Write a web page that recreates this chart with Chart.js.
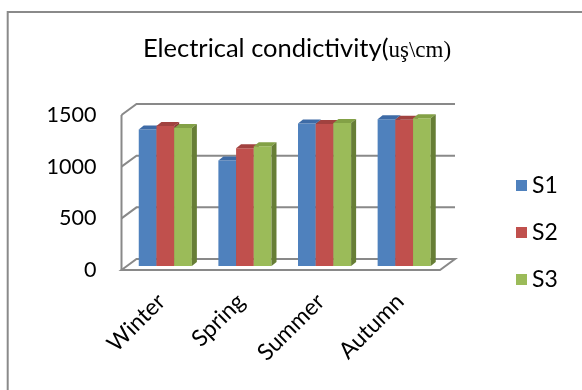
<!DOCTYPE html>
<html>
<head>
<meta charset="utf-8">
<script src="https://cdn.jsdelivr.net/npm/chart.js@4/dist/chart.umd.min.js"></script>
<style>
  html, body { margin: 0; padding: 0; background: #fff; }
  canvas { display: block; }
</style>
</head>
<body>
<canvas id="chart" width="582" height="390"></canvas>
<script>
// Seasonal conductivity readings for three sampling sites
const seasons = ['Winter', 'Spring', 'Summer', 'Autumn'];
const seriesNames = ['S1', 'S2', 'S3'];
const s1 = [1320, 1020, 1380, 1420];
const s2 = [1355, 1140, 1375, 1415];
const s3 = [1335, 1160, 1385, 1430];
const yTicks = [0, 500, 1000, 1500];
const titleMain = 'Electrical condictivity(';
const titleUnit = 'uş\\cm)';

const faceColors = ['#4F81BD', '#C0504D', '#9BBB59'];
const topColors  = ['#3E6BA6', '#A1423F', '#83A146'];
const sideColors = ['#36598A', '#8C3431', '#677E36'];

const SANS = 'Lato, "Open Sans", sans-serif';
const SERIF = '"Liberation Serif", "DejaVu Serif", serif';
const GRID = '#898989';
const FLOOR_DEPTH = { x: 15, y: -11 };  // back wall offset from the front plane
const BAR_SHIFT = { x: 4, y: -4 };      // bars stand a little behind the front edge
const BAR_DEPTH = { x: 5, y: -4 };      // thickness of each bar

// Outer frame and the two-font title
const frame = {
  id: 'frame',
  beforeDraw(chart) {
    const ctx = chart.ctx;
    ctx.save();
    ctx.fillStyle = '#fff';
    ctx.fillRect(0, 0, chart.width, chart.height);
    ctx.strokeStyle = '#8a8a8a';
    ctx.lineWidth = 2;
    ctx.strokeRect(7.7, 12, 700, 500);
    ctx.restore();
  },
  afterDraw(chart) {
    const ctx = chart.ctx;
    ctx.save();
    ctx.fillStyle = '#000';
    ctx.textBaseline = 'alphabetic';
    const fMain = '25.5px ' + SANS;
    const fUnit = '23px ' + SERIF;
    ctx.font = fMain;
    const w1 = ctx.measureText(titleMain).width;
    ctx.font = fUnit;
    const w2 = ctx.measureText(titleUnit).width;
    const x0 = 297 - (w1 + w2) / 2;
    const base = 57;
    ctx.font = fMain;
    ctx.fillText(titleMain, x0, base);
    ctx.font = fUnit;
    ctx.fillText(titleUnit, x0 + w1, base);
    ctx.restore();
  }
};

// Legend on the right
const sideLegend = {
  id: 'sideLegend',
  afterDraw(chart) {
    const ctx = chart.ctx;
    ctx.save();
    ctx.font = '23px ' + SANS;
    ctx.textBaseline = 'middle';
    ctx.fillStyle = '#000';
    chart.data.datasets.forEach((ds, i) => {
      const cy = 185 + i * 47;
      ctx.fillStyle = faceColors[i];
      ctx.fillRect(516, cy - 5, 11, 11);
      ctx.fillStyle = '#000';
      ctx.fillText(ds.label, 532, cy + 1);
    });
    ctx.restore();
  }
};

// Walls, floor and 3-D bars
const depthView = {
  id: 'depthView',
  beforeDatasetsDraw(chart) {
    const { ctx, chartArea: a, scales: { y } } = chart;
    const L = a.left, R = a.right;
    ctx.save();
    ctx.strokeStyle = GRID;
    ctx.lineWidth = 2;
    ctx.lineJoin = 'miter';
    yTicks.forEach(v => {
      const py = y.getPixelForValue(v);
      ctx.beginPath();
      ctx.moveTo(L, py);
      ctx.lineTo(L + FLOOR_DEPTH.x, py + FLOOR_DEPTH.y);
      ctx.lineTo(R + FLOOR_DEPTH.x, py + FLOOR_DEPTH.y);
      if (v === 0) {
        ctx.lineTo(R, py);
        ctx.closePath();
      }
      ctx.stroke();
    });
    ctx.beginPath();
    ctx.moveTo(L, y.getPixelForValue(yTicks[yTicks.length - 1]));
    ctx.lineTo(L, y.getPixelForValue(0));
    ctx.stroke();
    ctx.restore();

    // bars painted left-to-right so each front face hides its neighbour's side
    chart.data.datasets.forEach((ds, i) => {
      const meta = chart.getDatasetMeta(i);
      ctx.save();
      ctx.translate(BAR_SHIFT.x, BAR_SHIFT.y);
      meta.data.forEach(bar => {
        const { x, y: top, base, width } = bar.getProps(['x', 'y', 'base', 'width'], true);
        const l = x - width / 2, r = x + width / 2;
        bar.draw(ctx);
        ctx.fillStyle = topColors[i];
        ctx.beginPath();
        ctx.moveTo(l, top);
        ctx.lineTo(r, top);
        ctx.lineTo(r + BAR_DEPTH.x, top + BAR_DEPTH.y);
        ctx.lineTo(l + BAR_DEPTH.x, top + BAR_DEPTH.y);
        ctx.closePath();
        ctx.fill();
        ctx.fillStyle = sideColors[i];
        ctx.beginPath();
        ctx.moveTo(r, top);
        ctx.lineTo(r + BAR_DEPTH.x, top + BAR_DEPTH.y);
        ctx.lineTo(r + BAR_DEPTH.x, base + BAR_DEPTH.y);
        ctx.lineTo(r, base);
        ctx.closePath();
        ctx.fill();
      });
      ctx.restore();
    });
    return false;
  }
};

const values = [s1, s2, s3];

new Chart(document.getElementById('chart'), {
  type: 'bar',
  data: {
    labels: seasons,
    datasets: seriesNames.map((name, i) => ({
      label: name,
      data: values[i],
      backgroundColor: faceColors[i],
      borderWidth: 0,
      categoryPercentage: 0.667,
      barPercentage: 1.0
    }))
  },
  options: {
    responsive: false,
    animation: false,
    devicePixelRatio: 1,
    events: [],
    layout: { padding: { top: 115, right: 142, left: 0, bottom: 0 } },
    plugins: {
      legend: { display: false },
      title: { display: false },
      tooltip: { enabled: false }
    },
    scales: {
      x: {
        grid: { display: false, drawTicks: false },
        border: { display: false },
        ticks: {
          color: '#000',
          font: { family: SANS, size: 23 },
          minRotation: 45,
          maxRotation: 45,
          padding: 18
        },
        afterFit(scale) { scale.height = 120; }
      },
      y: {
        min: 0,
        max: 1500,
        grid: { display: false, drawTicks: false },
        border: { display: false },
        ticks: {
          stepSize: 500,
          color: '#000',
          font: { family: SANS, size: 21.5 },
          padding: 25,
          callback: v => String(v)
        },
        afterFit(scale) { scale.width = 121.5; }
      }
    }
  },
  plugins: [frame, depthView, sideLegend]
});
</script>
</body>
</html>
